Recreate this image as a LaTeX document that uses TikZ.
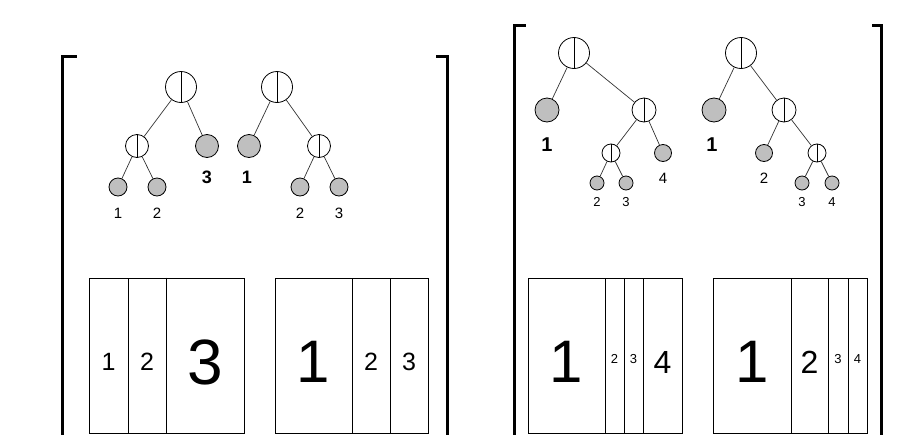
\documentclass[tikz,border=0pt]{standalone}
\usepackage{fontspec}
\setmainfont{Liberation Sans}
\tikzset{
  splitc/.style={circle,draw,line width=0.8pt,minimum size=#1,inner sep=0pt,fill=white},
  leafc/.style={circle,draw,line width=0.8pt,minimum size=#1,inner sep=0pt,fill=gray!50},
  edge/.style={black!80,line width=0.7pt},
  bracket/.style={line width=3pt,line join=miter,line cap=rect},
  cellst/.style={rectangle,draw,line width=0.8pt,minimum height=155pt,inner sep=0pt},
  lab/.style={inner sep=0pt,font=\fontsize{#1}{#1}\selectfont},
  blab/.style={inner sep=0pt,font=\fontsize{#1}{#1}\selectfont\bfseries},
}
\newcommand\mycell[6]{% name, x1, x2, text, size, ytext
  \node[cellst,minimum width={(#3-#2)*1pt}] (#1) at ({(#2+#3)/2},355.5) {};
  \node[lab=#5] (#1t) at ({(#2+#3)/2},#6) {#4};
}
\newcommand\splitline[1]{\draw[line width=0.8pt] (#1.north) -- (#1.south);}
\begin{document}
\begin{tikzpicture}[x=1pt,y=-1pt]
\useasboundingbox (0,0) rectangle (917,434);
% brackets
\coordinate (bl1a) at (75,56); \coordinate (bl1b) at (62,56); \coordinate (bl1c) at (62,436);
\coordinate (br1a) at (437,56); \coordinate (br1b) at (447,56); \coordinate (br1c) at (447,436);
\coordinate (bl2a) at (524,25); \coordinate (bl2b) at (514,25); \coordinate (bl2c) at (514,436);
\coordinate (br2a) at (873,25); \coordinate (br2b) at (881,25); \coordinate (br2c) at (881,436);
\draw[bracket] (bl1a) -- (bl1b) -- (bl1c);
\draw[bracket] (br1a) -- (br1b) -- (br1c);
\draw[bracket] (bl2a) -- (bl2b) -- (bl2c);
\draw[bracket] (br2a) -- (br2b) -- (br2c);

% Tree 1
\node[splitc=31pt] (a) at (181,87) {};
\node[splitc=23pt] (a1) at (137,146) {};
\node[leafc=23pt] (a2) at (207,146) {};
\node[leafc=18pt] (a11) at (118,187) {};
\node[leafc=18pt] (a12) at (157,187) {};
\draw[edge] (a) -- (a1); \draw[edge] (a) -- (a2);
\draw[edge] (a1) -- (a11); \draw[edge] (a1) -- (a12);
\splitline{a} \splitline{a1}
\node[lab=15] (la11) at (118,213) {1};
\node[lab=15] (la12) at (157,213) {2};
\node[blab=18] (la2) at (207,177) {3};

% Tree 2
\node[splitc=31pt] (b) at (277,87) {};
\node[leafc=23pt] (b1) at (249,146) {};
\node[splitc=23pt] (b2) at (319,146) {};
\node[leafc=18pt] (b21) at (300,187) {};
\node[leafc=18pt] (b22) at (339,187) {};
\draw[edge] (b) -- (b1); \draw[edge] (b) -- (b2);
\draw[edge] (b2) -- (b21); \draw[edge] (b2) -- (b22);
\splitline{b} \splitline{b2}
\node[blab=18] (lb1) at (247,177) {1};
\node[lab=15] (lb21) at (300,213) {2};
\node[lab=15] (lb22) at (339,213) {3};

% Tree 3
\node[splitc=31pt] (c) at (574,53) {};
\node[leafc=24pt] (c1) at (547,110) {};
\node[splitc=24pt] (c2) at (644,110) {};
\node[splitc=18pt] (c21) at (611,153) {};
\node[leafc=17pt] (c22) at (663,153) {};
\node[leafc=14pt] (c211) at (597,183) {};
\node[leafc=14pt] (c212) at (626,183) {};
\draw[edge] (c) -- (c1); \draw[edge] (c) -- (c2);
\draw[edge] (c2) -- (c21); \draw[edge] (c2) -- (c22);
\draw[edge] (c21) -- (c211); \draw[edge] (c21) -- (c212);
\splitline{c} \splitline{c2} \splitline{c21}
\node[blab=20] (lc1) at (547,145) {1};
\node[lab=15] (lc22) at (663,178) {4};
\node[lab=13] (lc211) at (597,202) {2};
\node[lab=13] (lc212) at (626,202) {3};

% Tree 4
\node[splitc=31pt] (d) at (741,53) {};
\node[leafc=24pt] (d1) at (714,110) {};
\node[splitc=24pt] (d2) at (784,110) {};
\node[leafc=17pt] (d21) at (764,153) {};
\node[splitc=18pt] (d22) at (817,153) {};
\node[leafc=14pt] (d221) at (802,183) {};
\node[leafc=14pt] (d222) at (832,183) {};
\draw[edge] (d) -- (d1); \draw[edge] (d) -- (d2);
\draw[edge] (d2) -- (d21); \draw[edge] (d2) -- (d22);
\draw[edge] (d22) -- (d221); \draw[edge] (d22) -- (d222);
\splitline{d} \splitline{d2} \splitline{d22}
\node[blab=20] (ld1) at (712,145) {1};
\node[lab=15] (ld21) at (764,178) {2};
\node[lab=13] (ld221) at (802,202) {3};
\node[lab=13] (ld222) at (832,202) {4};

% Box A
\mycell{A1}{89}{128}{1}{25}{362}
\mycell{A2}{128}{166}{2}{25}{362}
\mycell{A3}{166}{244}{3}{64}{362}
\draw[line width=1.4pt] (A2.north east) -- (A2.south east);
% Box B
\mycell{B1}{275}{352}{1}{60}{362}
\mycell{B2}{352}{390}{2}{25}{362}
\mycell{B3}{390}{428}{3}{25}{362}
% Box C
\mycell{C1}{528}{605}{1}{60}{362}
\mycell{C2}{605}{624}{2}{13}{359}
\mycell{C3}{624}{643}{3}{13}{359}
\mycell{C4}{643}{682}{4}{32}{362}
% Box D
\mycell{D1}{713}{791}{1}{60}{362}
\mycell{D2}{791}{828}{2}{32}{362}
\mycell{D3}{828}{848}{3}{13}{359}
\mycell{D4}{848}{867}{4}{13}{359}
\end{tikzpicture}
\end{document}
